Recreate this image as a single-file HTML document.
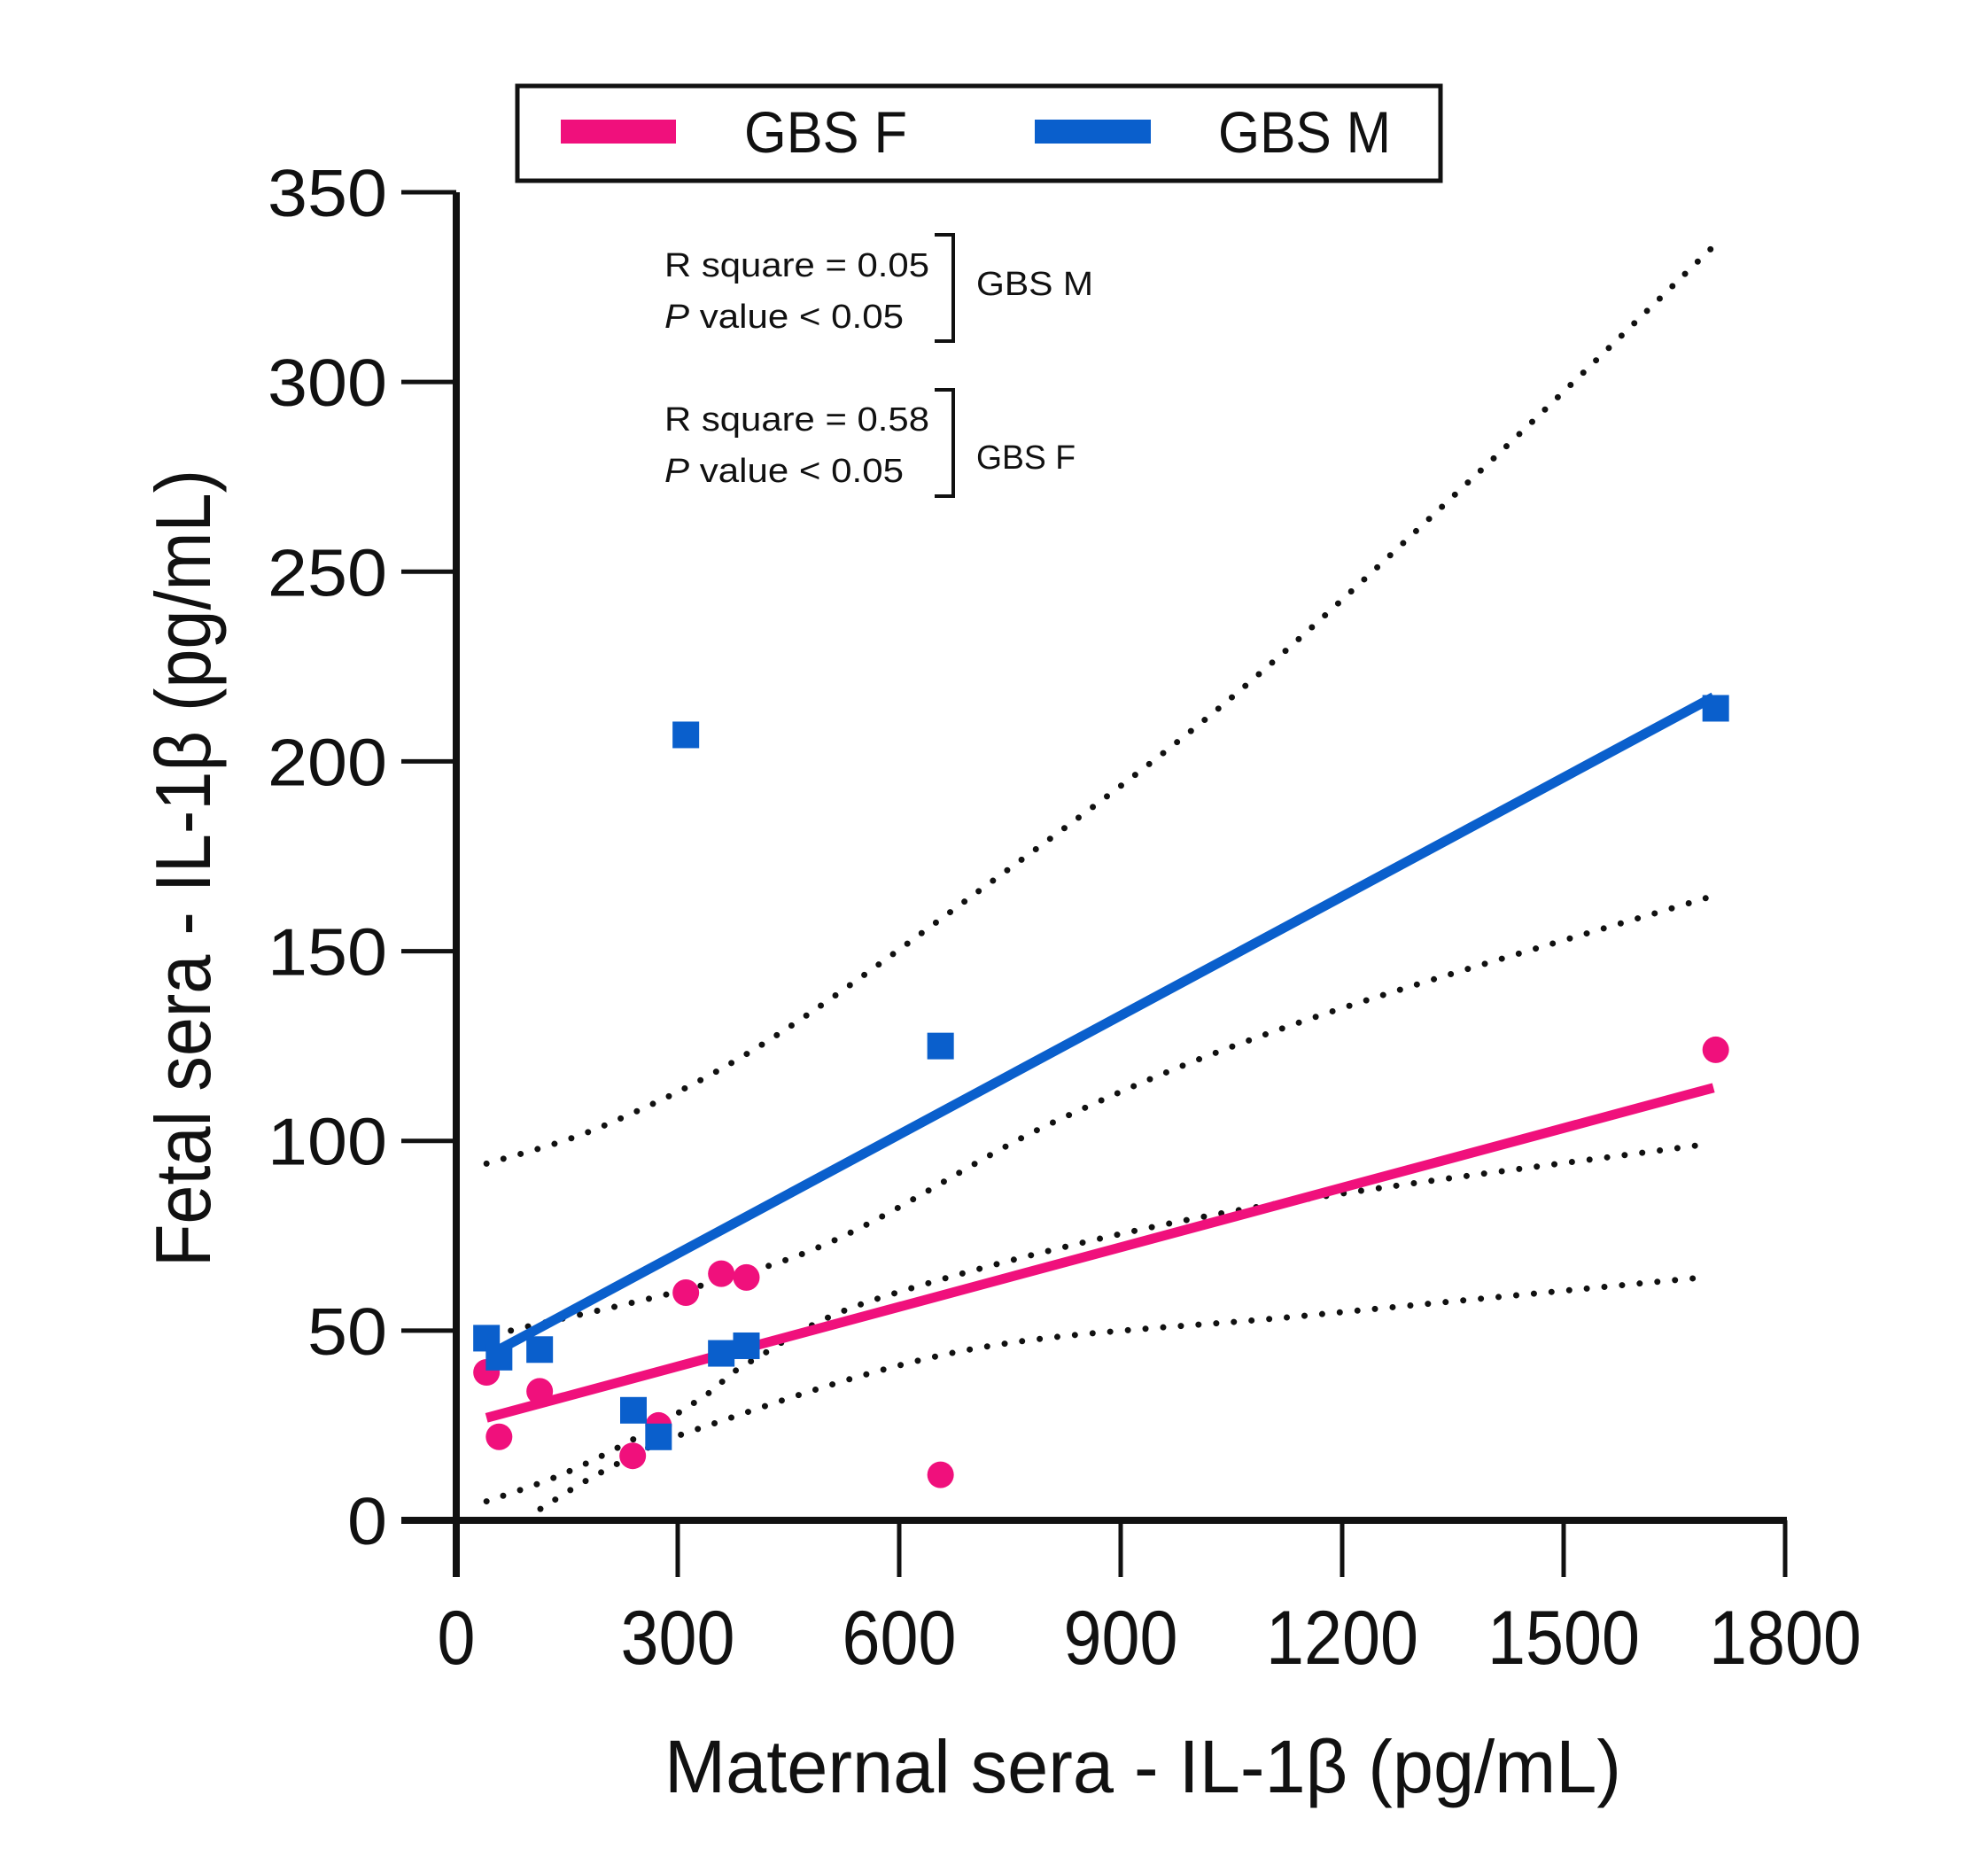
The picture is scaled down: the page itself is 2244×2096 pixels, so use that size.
<!DOCTYPE html>
<html><head><meta charset="utf-8"><style>
html,body{margin:0;padding:0;background:#fff;}
svg{display:block;}
text{font-family:"Liberation Sans",sans-serif;fill:#111;}
</style></head><body>
<svg id="chart" width="2244" height="2096" viewBox="0 0 2244 2096" xmlns="http://www.w3.org/2000/svg">
<g id="bands"></g>
<g id="fits"></g>
<g id="points"></g>
<g id="axes"></g>
<g>
  <rect x="584" y="97" width="1042" height="107" fill="#fff" stroke="#111" stroke-width="5"/>
  <rect x="633" y="135" width="130" height="27" fill="#f0107c"/>
  <text x="840" y="172" font-size="66" textLength="184" lengthAdjust="spacingAndGlyphs">GBS F</text>
  <rect x="1168" y="135" width="131" height="27" fill="#0a5fcc"/>
  <text x="1375" y="172" font-size="66" textLength="195" lengthAdjust="spacingAndGlyphs">GBS M</text>
</g>
<g font-size="38">
  <text x="750" y="312" font-size="38" textLength="299" lengthAdjust="spacingAndGlyphs">R square = 0.05</text>
  <text x="750" y="370" font-size="38" textLength="270" lengthAdjust="spacingAndGlyphs"><tspan font-style="italic">P</tspan> value &lt; 0.05</text>
  <path d="M1055 265 H1076 V385 H1055" fill="none" stroke="#111" stroke-width="4"/>
  <text x="1102" y="333" font-size="38" textLength="132" lengthAdjust="spacingAndGlyphs">GBS M</text>
  <text x="750" y="486" font-size="38" textLength="299" lengthAdjust="spacingAndGlyphs">R square = 0.58</text>
  <text x="750" y="544" font-size="38" textLength="270" lengthAdjust="spacingAndGlyphs"><tspan font-style="italic">P</tspan> value &lt; 0.05</text>
  <path d="M1055 440 H1076 V560 H1055" fill="none" stroke="#111" stroke-width="4"/>
  <text x="1102" y="529" font-size="38" textLength="112" lengthAdjust="spacingAndGlyphs">GBS F</text>
</g>
<text transform="translate(237,980) rotate(-90)" text-anchor="middle" font-size="88" textLength="900" lengthAdjust="spacingAndGlyphs">Fetal sera - IL-1β (pg/mL)</text>
<text x="1290" y="2023" text-anchor="middle" font-size="84" textLength="1080" lengthAdjust="spacingAndGlyphs">Maternal  sera - IL-1β (pg/mL)</text>
</svg>
<script>
const xTicks = [0, 300, 600, 900, 1200, 1500, 1800];
const yTicks = [0, 50, 100, 150, 200, 250, 300, 350];
const mX = [41, 58, 113, 311, 656, 359, 393, 240, 274, 1706];
const mY = [48, 43, 45, 207, 125, 44, 46, 29, 22, 214];
const fX = [41, 58, 113, 239, 274, 311, 359, 393, 656, 1706];
const fY = [39, 22, 34, 17, 25, 60, 65, 64, 12, 124];
const mFitX = [58, 1703];
const mFitY = [45, 217];
const fFitX = [41, 1703];
const fFitY = [27, 114];
const mUpperX = [41, 200, 411, 695, 1039, 1384, 1699];
const mUpperY = [94, 104, 125, 164, 215, 276, 335];
const mLowerX = [41, 142, 246, 338, 400, 580, 1039, 1688];
const mLowerY = [5, 12, 22, 33, 42, 59, 81, 99];
const fUpperX = [74, 466, 810, 1154, 1693];
const fUpperY = [50, 70, 105, 132, 164];
const fLowerX = [114, 200, 326, 695, 1154, 1688];
const fLowerY = [3, 13, 24, 45, 54, 64];

const X0 = 515, X1 = 2015, Y0 = 1716, Y1 = 217;
function sx(v){ return X0 + v / 1800 * (X1 - X0); }
function sy(v){ return Y0 - v / 350 * (Y0 - Y1); }
const NS = 'http://www.w3.org/2000/svg';
function mk(tag, attrs, parent){
  const e = document.createElementNS(NS, tag);
  for (const k in attrs) e.setAttribute(k, attrs[k]);
  parent.appendChild(e); return e;
}
function smooth(xs, ys){
  const p = xs.map((x,i)=>[sx(x), sy(ys[i])]);
  let d = 'M' + p[0][0] + ' ' + p[0][1];
  for (let i=0;i<p.length-1;i++){
    const a=p[Math.max(0,i-1)], b=p[i], c=p[i+1], e=p[Math.min(p.length-1,i+2)];
    const c1=[b[0]+(c[0]-a[0])/6, b[1]+(c[1]-a[1])/6];
    const c2=[c[0]-(e[0]-b[0])/6, c[1]-(e[1]-b[1])/6];
    d += ' C'+c1[0]+' '+c1[1]+' '+c2[0]+' '+c2[1]+' '+c[0]+' '+c[1];
  }
  return d;
}
const axes = document.getElementById('axes');
const bands = document.getElementById('bands');
const fits = document.getElementById('fits');
const pts = document.getElementById('points');

const bandDefs = [['band-gbs-m-upper', mUpperX, mUpperY], ['band-gbs-m-lower', mLowerX, mLowerY],
                  ['band-gbs-f-upper', fUpperX, fUpperY], ['band-gbs-f-lower', fLowerX, fLowerY]];
bandDefs.forEach(b => {
  const el = mk('path', {d: smooth(b[1], b[2]), fill:'none', stroke:'#111', 'stroke-width':7, 'stroke-linecap':'round', 'stroke-dasharray':'0 20'}, bands);
  
  
});
const fm = mk('line', {x1:sx(mFitX[0]), y1:sy(mFitY[0]), x2:sx(mFitX[1]), y2:sy(mFitY[1]), stroke:'#0a5fcc', 'stroke-width':11}, fits);


const ff = mk('line', {x1:sx(fFitX[0]), y1:sy(fFitY[0]), x2:sx(fFitX[1]), y2:sy(fFitY[1]), stroke:'#f0107c', 'stroke-width':11}, fits);



fX.forEach((x,i) => {
  const c = mk('circle', {cx:sx(x), cy:sy(fY[i]), r:15, fill:'#f0107c'}, pts);
  
  
});
mX.forEach((x,i) => {
  const r = mk('rect', {x:sx(x)-15, y:sy(mY[i])-15, width:30, height:30, fill:'#0a5fcc'}, pts);
  
  
});

const ya = mk('line', {x1:X0, y1:Y1, x2:X0, y2:1780, stroke:'#111', 'stroke-width':8}, axes);


const xa = mk('line', {x1:453, y1:Y0, x2:X1+2, y2:Y0, stroke:'#111', 'stroke-width':8}, axes);


yTicks.forEach(v => {
  const t = mk('line', {x1:453, y1:sy(v), x2:X0, y2:sy(v), stroke:'#111', 'stroke-width':5}, axes);
  
  
  const s = String(v);
  const l = mk('text', {x:437, y:sy(v)+27, 'text-anchor':'end', 'font-size':75, textLength:s.length*45, lengthAdjust:'spacingAndGlyphs'}, axes);
  l.textContent = s;
  
  
});
xTicks.forEach(v => {
  const t = mk('line', {x1:sx(v), y1:Y0, x2:sx(v), y2:1780, stroke:'#111', 'stroke-width':5}, axes);
  
  
  const s = String(v);
  const l = mk('text', {x:sx(v), y:1878, 'text-anchor':'middle', 'font-size':86, textLength:s.length*43, lengthAdjust:'spacingAndGlyphs'}, axes);
  l.textContent = s;
  
  
});
</script>
</body></html>
